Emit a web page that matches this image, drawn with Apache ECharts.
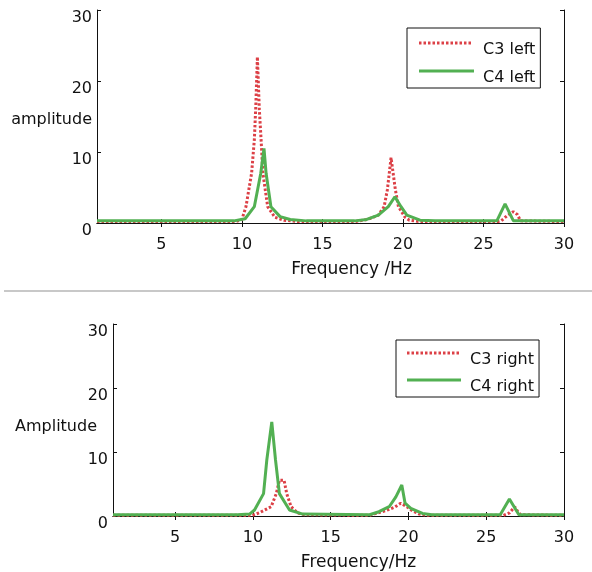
<!DOCTYPE html>
<html>
<head>
<meta charset="utf-8">
<script src="https://cdn.jsdelivr.net/npm/echarts@6/dist/echarts.min.js"></script>
<style>html,body{margin:0;padding:0;background:#fff}#c{width:592px;height:572px}</style>
</head>
<body>
<div id="c"></div>
<script>
// ---- data (frequency in Hz, amplitude) ----
const xTicks = [5, 10, 15, 20, 25, 30];
const c3LeftFreq = [1, 9.6, 10.0, 10.25, 10.6, 10.77, 10.86, 10.96, 11.08, 11.19, 11.3, 11.6, 12.05, 12.6, 13.5, 17.0, 17.8, 18.47, 18.83, 19.03, 19.26, 19.53, 19.72, 20.13, 20.4, 21.0, 25.9, 26.1, 26.45, 26.85, 27.1, 27.3, 30];
const c3LeftAmp  = [0.2, 0.2, 0.5, 2.3, 7, 11.7, 16.4, 23.4, 16, 11.7, 7, 2.3, 0.8, 0.4, 0.2, 0.2, 0.5, 1.1, 2.3, 4.65, 9.2, 4.65, 2.3, 0.8, 0.4, 0.2, 0.2, 0.3, 1.0, 1.6, 1.2, 0.3, 0.2];
const c4LeftFreq = [1, 9.5, 10.2, 10.77, 11.17, 11.37, 11.5, 11.8, 12.37, 13.0, 14, 17.0, 17.75, 18.47, 19.09, 19.5, 19.88, 20.24, 21.06, 22, 25.83, 26.34, 26.86, 30];
const c4LeftAmp  = [0.3, 0.3, 0.6, 2.3, 7, 10.5, 7, 2.3, 0.9, 0.5, 0.3, 0.3, 0.5, 1.1, 2.3, 3.7, 2.3, 1.1, 0.4, 0.3, 0.3, 2.7, 0.3, 0.3];
const c3RightFreq = [1, 9.97, 10.4, 11.17, 11.5, 11.7, 12.0, 12.17, 12.45, 12.86, 13.3, 17.5, 17.9, 18.5, 19.1, 19.5, 19.9, 20.25, 20.7, 21.2, 26.1, 26.5, 26.83, 27.0, 27.2, 30];
const c3RightAmp  = [0.1, 0.1, 0.5, 1.45, 3.5, 5.6, 5.6, 3.5, 1.45, 0.5, 0.2, 0.1, 0.4, 0.8, 1.36, 2.0, 1.45, 0.8, 0.3, 0.1, 0.1, 0.5, 1.45, 0.8, 0.2, 0.1];
const c4RightFreq = [1, 9.0, 9.78, 10.1, 10.68, 10.89, 11.21, 11.45, 11.7, 12.35, 13.2, 17.5, 18.1, 18.76, 19.19, 19.57, 19.78, 20.15, 20.9, 21.5, 25.9, 26.49, 27.1, 30];
const c4RightAmp  = [0.2, 0.2, 0.3, 0.94, 3.5, 8.75, 14.7, 8.75, 3.5, 0.94, 0.3, 0.2, 0.67, 1.45, 3.0, 4.84, 2.0, 1.2, 0.4, 0.2, 0.2, 2.66, 0.2, 0.2];

const pairs = (f, a) => f.map((v, i) => [v, a[i]]);
const RED = '#dc4046', GREEN = '#52b052', INK = '#111';
const FONT = 'DejaVu Sans';

// legend sample icons: line drawn near the top of a w x 20 box (text sits lower, as in the original)
function solidIcon(w) {
  return 'path://M0,1.5h' + w + 'v3h-' + w + 'z M' + w + ',20h0.01v0.01h-0.01z M0,0h0.01v0.01h-0.01z';
}
function dottedIcon(w) {
  let p = 'path://';
  for (let x = 0; x + 2.5 <= w; x += 4.5) p += 'M' + x + ',1.5h2.5v3h-2.5z ';
  return p + 'M' + w + ',20h0.01v0.01h-0.01z M0,0h0.01v0.01h-0.01z';
}

function xAxes(grid, name, shift) {
  return [
    { type: 'value', gridIndex: grid, min: 1, max: 30, position: 'bottom',
      name: name, nameLocation: 'middle', nameGap: 38, nameMoveOverlap: false,
      nameTextStyle: { fontFamily: FONT, fontSize: 17, color: INK, padding: [0, 0, 0, shift] },
      axisLine: { show: true, lineStyle: { color: INK, width: 1 } },
      axisTick: { show: true, inside: true, length: 4, customValues: xTicks, lineStyle: { color: INK } },
      axisLabel: { customValues: xTicks, fontFamily: FONT, fontSize: 16, color: INK, margin: 14 },
      splitLine: { show: false } },
    { type: 'value', gridIndex: grid, min: 1, max: 30, position: 'top',
      axisLine: { show: true, lineStyle: { color: INK, width: 1 } },
      axisTick: { show: true, inside: true, length: 4, customValues: xTicks, lineStyle: { color: INK } },
      axisLabel: { show: false }, splitLine: { show: false } }
  ];
}
function yAxes(grid, name, gap, nameLH) {
  return [
    { type: 'value', gridIndex: grid, min: 0, max: 30, interval: 10, position: 'left',
      name: name, nameLocation: 'middle', nameRotate: 0, nameGap: gap, nameMoveOverlap: false,
      nameTextStyle: { fontFamily: FONT, fontSize: 16, color: INK, verticalAlign: 'top', lineHeight: nameLH },
      axisLine: { show: true, lineStyle: { color: INK, width: 1 } },
      axisTick: { show: true, inside: true, length: 4, lineStyle: { color: INK } },
      axisLabel: { fontFamily: FONT, fontSize: 16, color: INK, margin: 5, verticalAlign: 'top', lineHeight: 15 },
      splitLine: { show: false } },
    { type: 'value', gridIndex: grid, min: 0, max: 30, interval: 10, position: 'right',
      axisLine: { show: true, lineStyle: { color: INK, width: 1 } },
      axisTick: { show: true, inside: true, length: 4, lineStyle: { color: INK } },
      axisLabel: { show: false }, splitLine: { show: false } }
  ];
}
function legend(names, left, top, pad, gap, w) {
  return { data: [{ name: names[0], icon: dottedIcon(w) }, { name: names[1], icon: solidIcon(w) }],
    orient: 'vertical', left: left, top: top, padding: pad, itemGap: gap,
    itemWidth: w, itemHeight: 20, borderColor: INK, borderWidth: 1, backgroundColor: '#fff',
    borderRadius: 0, selectedMode: false, symbolKeepAspect: false,
    textStyle: { fontFamily: FONT, fontSize: 16, color: INK, padding: [0, 0, 0, 4] } };
}
const dotted = { color: RED, width: 3, type: [2.5, 2] };
const solid = { color: GREEN, width: 3 };

const option = {
  animation: false,
  backgroundColor: '#fff',
  grid: [
    { left: 97, top: 10, width: 467, height: 213, outerBoundsMode: 'none', containLabel: false },
    { left: 113, top: 324, width: 451, height: 192, outerBoundsMode: 'none', containLabel: false }
  ],
  xAxis: [...xAxes(0, 'Frequency /Hz', 42), ...xAxes(1, 'Frequency/Hz', 40)],
  yAxis: [...yAxes(0, 'amplitude', 5, 7), ...yAxes(1, 'Amplitude', 16, 14)],
  legend: [
    legend(['C3 left', 'C4 left'], 407, 28, [12, 5, 0, 12], 8, 55),
    legend(['C3 right', 'C4 right'], 396, 340, [10, 5, 0, 11], 7, 54)
  ],
  graphic: [{ type: 'line', shape: { x1: 4, y1: 291, x2: 592, y2: 291 }, style: { stroke: '#c8c8c8', lineWidth: 2 } }],
  series: [
    { name: 'C3 left', type: 'line', xAxisIndex: 0, yAxisIndex: 0, data: pairs(c3LeftFreq, c3LeftAmp), symbol: 'none', lineStyle: dotted, itemStyle: { color: RED }, z: 2 },
    { name: 'C4 left', type: 'line', xAxisIndex: 0, yAxisIndex: 0, data: pairs(c4LeftFreq, c4LeftAmp), symbol: 'none', lineStyle: solid, itemStyle: { color: GREEN }, z: 3 },
    { name: 'C3 right', type: 'line', xAxisIndex: 2, yAxisIndex: 2, data: pairs(c3RightFreq, c3RightAmp), symbol: 'none', lineStyle: dotted, itemStyle: { color: RED }, z: 2 },
    { name: 'C4 right', type: 'line', xAxisIndex: 2, yAxisIndex: 2, data: pairs(c4RightFreq, c4RightAmp), symbol: 'none', lineStyle: solid, itemStyle: { color: GREEN }, z: 3 }
  ]
};
echarts.init(document.getElementById('c'), null, { renderer: 'canvas' }).setOption(option);
</script>
</body>
</html>
